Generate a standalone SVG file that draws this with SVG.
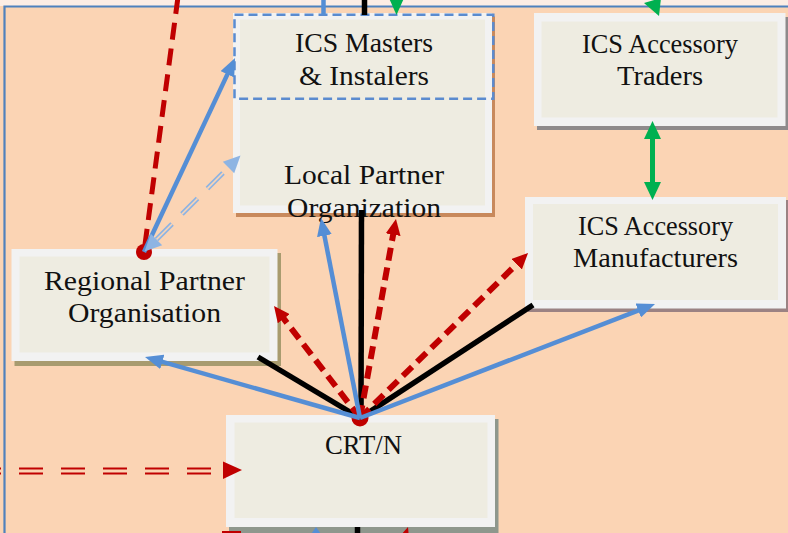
<svg xmlns="http://www.w3.org/2000/svg" width="788" height="533" viewBox="0 0 788 533">
<style>
.shadow{stroke:none}
.outer{fill:#F2F2F2}
.inner{fill:#EEECE1}
.lbl{font-family:"Liberation Serif","Times New Roman",serif;font-size:27.5px;fill:#111;text-anchor:middle}
.blk{stroke:#000;stroke-width:5.5;fill:none}
.blu{stroke:#558ED5;stroke-width:4.5;fill:none}
.red{stroke:#C00000;stroke-width:6;fill:none;stroke-dasharray:13 7}
.grn{stroke:#00B050;stroke-width:5;fill:none}
</style>
<defs>
<marker id="ahBlue" viewBox="0 0 18 15" refX="8" refY="7.5" markerWidth="18" markerHeight="15" markerUnits="userSpaceOnUse" orient="auto"><path d="M0,0 L18,7.5 L0,15 z" fill="#558ED5"/></marker>
<marker id="ahRed" viewBox="0 0 16 15" refX="6" refY="7.5" markerWidth="16" markerHeight="15" markerUnits="userSpaceOnUse" orient="auto"><path d="M0,0 L16,7.5 L0,15 z" fill="#C00000"/></marker>
<marker id="ahGreen" viewBox="0 0 18 17" refX="8" refY="8.5" markerWidth="18" markerHeight="17" markerUnits="userSpaceOnUse" orient="auto-start-reverse"><path d="M0,0 L18,8.5 L0,17 z" fill="#00B050"/></marker>
</defs>

<g id="background">
<rect x="0" y="0" width="788" height="533" fill="#FBD4B4"/>
<rect x="0" y="0" width="788" height="6" fill="#FDEDE4"/>
<path d="M4.5,540 L4.5,6.5 L800,6.5" fill="none" stroke="#4F81BD" stroke-width="2.2"/>
</g>

<g id="node-local-partner">
<rect class="shadow" x="236" y="16.5" width="259" height="200.5" fill="#C8895C"/>
<rect class="outer" x="233" y="13" width="259" height="200"/>
<rect class="inner" x="240" y="19.5" width="245" height="186"/>
<text class="lbl" x="364" y="184" textLength="160" lengthAdjust="spacingAndGlyphs">Local Partner</text>
<text class="lbl" x="364" y="217" textLength="154" lengthAdjust="spacingAndGlyphs">Organization</text>
</g>

<g id="node-ics-masters">
<rect x="234.5" y="14.7" width="258.8" height="84" fill="none" stroke="#5B8BCF" stroke-width="2.5" stroke-dasharray="9 5"/>
<text class="lbl" x="364" y="52" textLength="138" lengthAdjust="spacingAndGlyphs">ICS Masters</text>
<text class="lbl" x="364" y="85" textLength="130" lengthAdjust="spacingAndGlyphs">&amp; Instalers</text>
</g>

<g id="node-accessory-traders">
<rect class="shadow" x="537" y="17" width="251" height="113" fill="#8E8A8B"/>
<rect class="outer" x="534" y="13" width="251.5" height="113"/>
<rect class="inner" x="541.5" y="21.5" width="236" height="96"/>
<text class="lbl" x="660" y="53" textLength="156" lengthAdjust="spacingAndGlyphs">ICS Accessory</text>
<text class="lbl" x="660" y="85" textLength="86" lengthAdjust="spacingAndGlyphs">Traders</text>
</g>

<g id="node-accessory-manufacturers">
<rect class="shadow" x="528" y="200" width="260" height="112" fill="#9B8283"/>
<rect class="outer" x="525" y="197" width="261" height="111.5"/>
<rect class="inner" x="533" y="204" width="245" height="96"/>
<text class="lbl" x="655.5" y="235" textLength="155" lengthAdjust="spacingAndGlyphs">ICS Accessory</text>
<text class="lbl" x="655.5" y="267" textLength="165" lengthAdjust="spacingAndGlyphs">Manufacturers</text>
</g>

<g id="node-regional-partner">
<rect class="shadow" x="14.5" y="253" width="266.5" height="113" fill="#A89B6F"/>
<rect class="outer" x="11.5" y="249" width="266" height="112"/>
<rect class="inner" x="19.5" y="256.5" width="250" height="96"/>
<text class="lbl" x="144.5" y="290" textLength="201" lengthAdjust="spacingAndGlyphs">Regional Partner</text>
<text class="lbl" x="144.5" y="322" textLength="153" lengthAdjust="spacingAndGlyphs">Organisation</text>
</g>

<g id="node-crt">
<rect class="shadow" x="229" y="419" width="269.5" height="114" fill="#8E978D"/>
<rect class="outer" x="226" y="415" width="269" height="112"/>
<rect class="inner" x="234.5" y="422.5" width="253" height="95.5"/>
<text class="lbl" x="363.5" y="454" textLength="77" lengthAdjust="spacingAndGlyphs">CRT/N</text>
</g>

<g id="connectors">
<path d="M178,-3 L144,252" fill="none" stroke="#C00000" stroke-width="5" stroke-dasharray="17 9"/>
<circle cx="144" cy="252" r="8" fill="#C00000"/>
<circle cx="360" cy="418" r="8.5" fill="#C00000"/>

<path class="blk" d="M360,418 L258,357"/>
<path class="blk" d="M360,418 L533,305"/>
<path class="blk" d="M361,418 L361.5,210"/>
<path class="blk" d="M364.5,-2 L364.5,15"/>
<path class="blk" d="M357.5,527 L357.5,536" stroke-width="6"/>

<path class="red" d="M360,418 L280.1,313.9" marker-end="url(#ahRed)"/>
<path class="red" d="M360,418 L394.2,228.8" marker-end="url(#ahRed)"/>
<path class="red" d="M360,418 L520.9,260" marker-end="url(#ahRed)"/>

<path class="blu" d="M360,418 L154.6,359.7" marker-end="url(#ahBlue)"/>
<path class="blu" d="M360,418 L322.9,227.8" marker-end="url(#ahBlue)"/>
<path class="blu" d="M360,418 L645.7,307.6" marker-end="url(#ahBlue)"/>
<path class="blu" d="M144,252 L230.8,67.1" marker-end="url(#ahBlue)"/>
<path class="blu" d="M323.5,-2 L323.5,15"/>

<path d="M156.5,239.5 L228.5,167.5" fill="none" stroke="#8EB4E3" stroke-width="5" stroke-dasharray="22 14"/>
<path d="M156.5,239.5 L228.5,167.5" fill="none" stroke="#FBD4B4" stroke-width="1.6" stroke-dasharray="22 14"/>
<polygon points="144.5,251.5 162.2,245.2 150.8,233.8" fill="#8EB4E3"/>
<polygon points="240.5,155.5 234.2,173.2 222.8,161.8" fill="#8EB4E3"/>

<path class="grn" d="M652.5,131 L652.5,190" marker-start="url(#ahGreen)" marker-end="url(#ahGreen)"/>
<polygon points="388.5,-3 404.5,-3 396.5,15" fill="#00B050"/>
<polygon points="644,3 661,-2 659,16" fill="#00B050"/>

<path d="M-23,468.5 L211,468.5" fill="none" stroke="#C00000" stroke-width="2" stroke-dasharray="24 18"/>
<path d="M-23,473.5 L211,473.5" fill="none" stroke="#C00000" stroke-width="2" stroke-dasharray="24 18"/>
<polygon points="223,461.5 242,470 223,479" fill="#C00000"/>

<rect x="222" y="531" width="19" height="2.5" fill="#C00000"/>
<polygon points="316,527 309,537 323,537" fill="#558ED5"/>
<polygon points="408,527 400,536 409,538" fill="#C00000"/>
</g>
</svg>
